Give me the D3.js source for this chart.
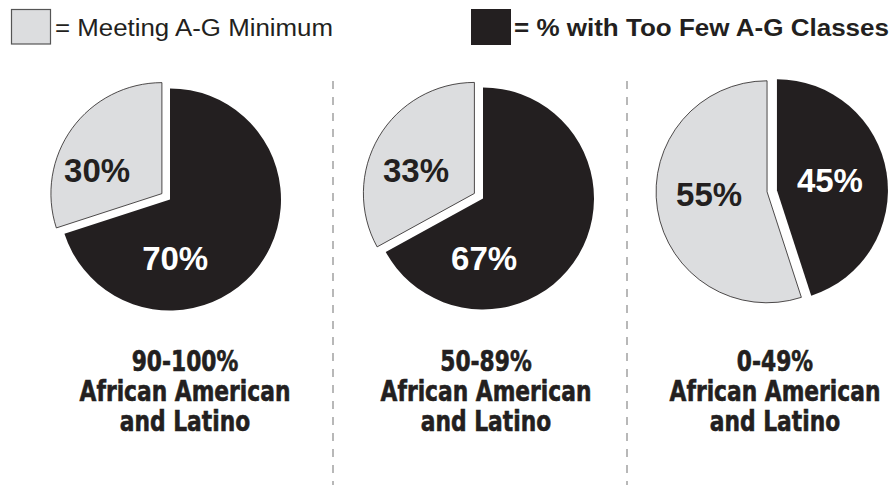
<!DOCTYPE html>
<html>
<head>
<meta charset="utf-8">
<script src="https://cdn.jsdelivr.net/npm/d3@7"></script>
<style>
  html, body { margin: 0; padding: 0; background: #ffffff; }
  svg { display: block; }
</style>
</head>
<body>
<svg id="chart" width="892" height="485"></svg>
<script>
// Share of students by school demographic group
const groups = ["90-100%", "50-89%", "0-49%"];
const groupSubtitle = ["African American", "and Latino"];
const tooFewPct = [70, 67, 45];    // % with too few A-G classes
const meetingPct = [30, 33, 55];   // % meeting A-G minimum
const legendLabels = ["= Meeting A-G Minimum", "= % with Too Few A-G Classes"];

const INK = "#231f20";
const LIGHT = "#dcdddf";

const svg = d3.select("#chart");
const width = 892, height = 485;

// Layout per pie
const pieCenterX = d3.scaleOrdinal().domain(groups).range([170, 483, 772]);
const pieCenterY = d3.scaleOrdinal().domain(groups).range([199.5, 198.5, 191]);
const captionX = d3.scaleOrdinal().domain(groups).range([185, 486, 775]);
const radius = 111;
const gap = 10;
// whether both slices move apart (true) or only the light one is pulled out
const splitBoth = [false, false, true];
// polar placement of the percent labels relative to each slice's centre
const labelPolar = [
  { dark: [175, 59], light: [-70, 69] },
  { dark: [179, 60], light: [-68, 63] },
  { dark: [79, 54], light: [-92, 58] }
];

const pie = d3.pie().sort(null).value(d => d.value);
const arc = d3.arc().innerRadius(0).outerRadius(radius);
const rad = Math.PI / 180;

// Legend
const legend = svg.append("g");
legend.append("rect")
  .attr("x", 11.5).attr("y", 9.5).attr("width", 39).attr("height", 34.5)
  .attr("fill", LIGHT).attr("stroke", "#555").attr("stroke-width", 1.2);
legend.append("text")
  .attr("x", 55).attr("y", 36)
  .attr("font-family", "'Liberation Sans', Arial, Helvetica, sans-serif")
  .attr("font-size", 23).attr("fill", INK)
  .attr("textLength", 278).attr("lengthAdjust", "spacingAndGlyphs")
  .text(legendLabels[0]);
legend.append("rect")
  .attr("x", 471).attr("y", 9).attr("width", 40).attr("height", 36)
  .attr("fill", INK);
legend.append("text")
  .attr("x", 514).attr("y", 36)
  .attr("font-family", "'Liberation Sans', Arial, Helvetica, sans-serif")
  .attr("font-size", 23).attr("font-weight", "bold").attr("fill", INK)
  .attr("textLength", 375).attr("lengthAdjust", "spacingAndGlyphs")
  .text(legendLabels[1]);

// Dashed column dividers
[333, 627].forEach(x => {
  svg.append("line")
    .attr("x1", x).attr("x2", x).attr("y1", 81).attr("y2", height)
    .attr("stroke", "#b8b8b8").attr("stroke-width", 2)
    .attr("stroke-dasharray", "8 8");
});

// Captions use a heavy condensed face: squeeze the bold sans horizontally
// so that "African American" spans this many pixels.
const captionWidestLine = 211;
const captionFont = "'Liberation Sans Narrow', 'Arial Narrow', 'DejaVu Sans Condensed', 'DejaVu Sans', sans-serif";
let captionSqueeze = 1;
{
  const probe = svg.append("text")
    .attr("font-family", captionFont).attr("font-weight", "bold").attr("font-size", 29)
    .text(groupSubtitle[0]);
  captionSqueeze = captionWidestLine / probe.node().getComputedTextLength();
  probe.remove();
}

// Pies
groups.forEach((g, i) => {
  const data = [
    { key: "dark", value: tooFewPct[i] },
    { key: "light", value: meetingPct[i] }
  ];
  const arcs = pie(data);
  const gPie = svg.append("g")
    .attr("transform", `translate(${pieCenterX(g)},${pieCenterY(g)})`);

  arcs.forEach(a => {
    const mid = (a.startAngle + a.endAngle) / 2;
    let shift = 0;
    if (splitBoth[i]) shift = gap / 2;
    else if (a.data.key === "light") shift = gap;
    const [ox, oy] = d3.pointRadial(mid, shift);
    const slice = gPie.append("g").attr("transform", `translate(${ox},${oy})`);
    slice.append("path")
      .attr("d", arc(a))
      .attr("fill", a.data.key === "dark" ? INK : LIGHT)
      .attr("stroke", a.data.key === "dark" ? "none" : INK)
      .attr("stroke-width", 0.8);
    const [angDeg, dist] = labelPolar[i][a.data.key];
    const [lx, ly] = d3.pointRadial(angDeg * rad, dist);
    slice.append("text")
      .attr("x", lx).attr("y", ly).attr("dy", "0.36em")
      .attr("text-anchor", "middle")
      .attr("font-family", "'Liberation Sans', Arial, Helvetica, sans-serif")
      .attr("font-weight", "bold").attr("font-size", 33)
      .attr("fill", a.data.key === "dark" ? "#ffffff" : INK)
      .text(a.data.value + "%");
  });

  // Caption under each pie
  [g].concat(groupSubtitle).forEach((line, k) => {
    svg.append("g")
      .attr("transform", `translate(${captionX(g)},${371 + k * 30}) scale(${captionSqueeze},1)`)
      .append("text")
      .attr("text-anchor", "middle")
      .attr("font-family", captionFont)
      .attr("font-weight", "bold").attr("font-size", 29)
      .attr("fill", INK).attr("stroke", INK).attr("stroke-width", 0.6)
      .text(line);
  });
});
</script>
</body>
</html>
